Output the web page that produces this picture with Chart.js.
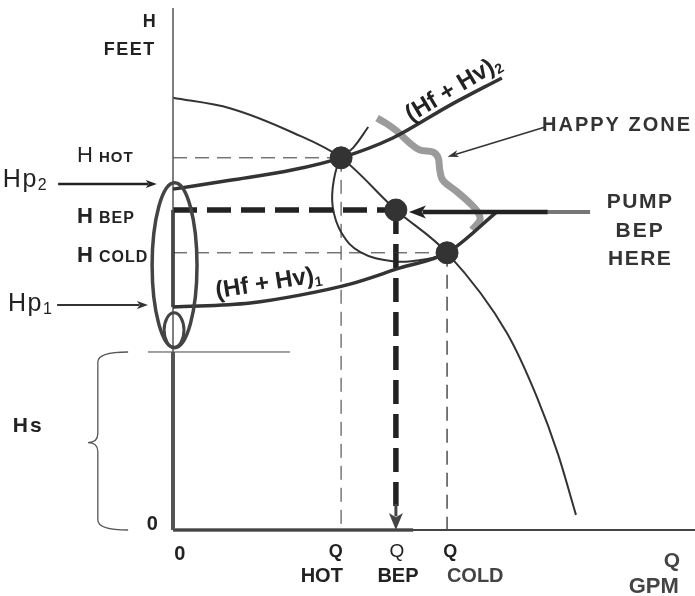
<!DOCTYPE html>
<html>
<head>
<meta charset="utf-8">
<script src="https://cdn.jsdelivr.net/npm/chart.js@4.4.1/dist/chart.umd.min.js"></script>
<style>
  html, body { margin: 0; padding: 0; background: #fff; overflow: hidden; }
  #pumpChart { display: block; }
</style>
</head>
<body>
<canvas id="pumpChart" width="695" height="596"></canvas>
<script>
// Q (flow) and H (head) in plain chart units, both axes run 0..100
const opQ = [32.2, 42.7, 52.5]; // hot, BEP, cold operating points
const opH = [71.3, 61.3, 53.1];

// pump head curve
const pumpQ = [0, 10.9, 23.0, 32.2, 42.7, 52.5, 64.0, 69.7, 73.8, 77.2];
const pumpH = [82.8, 80.8, 76.1, 71.3, 61.3, 53.1, 37.7, 25.5, 14.4, 2.9];

// system curves (Hf + Hv)2 and (Hf + Hv)1
const sys2Q = [0, 10.9, 23.0, 32.2, 42.1, 53.1, 63.0];
const sys2H = [65.3, 67.0, 69.0, 71.3, 75.1, 81.4, 86.6];
const sys1Q = [0, 14.8, 24.3, 33.9, 43.5, 52.5, 62.1];
const sys1H = [42.7, 43.5, 45.0, 47.1, 50.2, 53.1, 61.0];

// loop running from above the hot point round to the cold point
const loopQ = [37.4, 34.5, 32.2, 30.8, 30.6, 32.3, 35.8, 42.1, 48.7, 52.5];
const loopH = [77.2, 73.2, 71.3, 67.0, 61.9, 56.9, 53.3, 51.5, 51.9, 53.1];

// grey "happy zone" stroke
const zoneQ = [39.1, 41.0, 42.9, 45.4, 47.3, 49.8, 50.8, 51.1, 51.7, 54.4, 56.9, 58.4, 58.8, 57.3];
const zoneH = [78.9, 77.8, 76.4, 74.1, 72.8, 72.4, 71.3, 69.0, 67.0, 64.8, 62.6, 60.9, 59.4, 57.5];

const hs = 34.1; // static head Hs

const B = '"Liberation Sans", Arial, sans-serif';

// text: anchor q/h, alignment, rotation, and runs of [text, font, dy, spacing, colour]
const labels = [
  { q: -3.3, h: 96.4, a: 'right', parts: [['H', 'bold 18px']] },
  { q: -3.3, h: 91.0, a: 'right', parts: [['FEET', 'bold 18px', 0, 1.5]] },
  { q: -18.4, h: 70.5, a: 'left', parts: [['H ', '22px'], ['HOT', 'bold 15px', 0, 1]] },
  { q: -32.6, h: 65.7, a: 'left', parts: [['Hp', '25px', 0, 1.5], ['2', '16px', 3]] },
  { q: -18.4, h: 58.8, a: 'left', parts: [['H ', 'bold 22px'], ['BEP', 'bold 16px', 0, 1]] },
  { q: -18.4, h: 51.3, a: 'left', parts: [['H ', 'bold 22px'], ['COLD', 'bold 16px', 0, 1]] },
  { q: -31.6, h: 42.0, a: 'left', parts: [['Hp', '25px', 0, 1.5], ['1', '16px', 3]] },
  { q: -30.7, h: 18.8, a: 'left', parts: [['Hs', 'bold 21px', 0, 2]] },
  { q: -2.9, h: 0, a: 'right', parts: [['0', 'bold 20px']] },
  { q: 1.3, h: -5.75, a: 'center', parts: [['0', 'bold 20px']] },
  { q: 31.2, h: -5.2, a: 'center', parts: [['Q', 'bold 18px']] },
  { q: 28.5, h: -10.0, a: 'center', parts: [['HOT', 'bold 20px']] },
  { q: 42.9, h: -5.2, a: 'center', parts: [['Q', '19px']] },
  { q: 43.1, h: -10.0, a: 'center', parts: [['BEP', 'bold 20px']] },
  { q: 53.1, h: -5.2, a: 'center', parts: [['Q', 'bold 18px']] },
  { q: 57.9, h: -10.0, a: 'center', parts: [['COLD', 'bold 20px', 0, 0, '#444']] },
  { q: 95.6, h: -7.1, a: 'center', parts: [['Q', 'bold 21px', 0, 0, '#444']] },
  { q: 92.1, h: -12.1, a: 'center', parts: [['GPM', 'bold 22px', 0, 0, '#444']] },
  { q: 70.7, h: 76.4, a: 'left', parts: [['HAPPY ZONE', 'bold 20px', 0, 2, '#333']] },
  { q: 89.5, h: 61.7, a: 'center', parts: [['PUMP', 'bold 21px', 0, 1.5, '#333']] },
  { q: 89.5, h: 56.1, a: 'center', parts: [['BEP', 'bold 21px', 0, 2, '#333']] },
  { q: 89.5, h: 50.8, a: 'center', parts: [['HERE', 'bold 21px', 0, 1.5, '#333']] },
  { q: 54.4, h: 83.4, a: 'center', rot: -31, parts: [['(Hf + Hv)', 'bold 24px'], ['2', 'bold 14px', 4]] },
  { q: 18.5, h: 46.0, a: 'center', rot: -9, parts: [['(Hf + Hv)', 'bold 24px'], ['1', 'bold 14px', 4]] }
];

function pts(qs, hs) {
  return qs.map((q, i) => ({ x: q, y: hs[i] }));
}
function seg(q0, h0, q1, h1) {
  return [{ x: q0, y: h0 }, { x: q1, y: h1 }];
}
function line(data, width, color, extra) {
  return Object.assign({
    data: data, showLine: true, borderWidth: width, borderColor: color,
    pointRadius: 0, fill: false, clip: false, order: 2
  }, extra || {});
}

const dash = [14, 8];
const bold = [24, 10];

const datasets = [
  // operating points
  { data: pts(opQ, opH), showLine: false, pointRadius: 11, pointBackgroundColor: '#333',
    pointBorderColor: '#333', clip: false, order: 0 },
  // axes
  line(seg(0, 0, 0, 100), 1.5, '#555'),
  line(seg(0, sys1H[0], 0, opH[1]), 3.5, '#222'),
  line(seg(0, 0, 0, hs), 4, '#555'),
  line(seg(0, 0, 100, 0), 2, '#444'),
  line(seg(0, 0, 46, 0), 3.5, '#555'),
  line(seg(-4.8, hs, 22.4, hs), 1, '#444'),
  // guide lines
  line(seg(0, opH[0], opQ[0], opH[0]), 1, '#333', { borderDash: dash }),
  line(seg(opQ[0], opH[0], opQ[0], 0), 1, '#333', { borderDash: dash }),
  line(seg(0, opH[2], opQ[2], opH[2]), 1, '#333', { borderDash: dash }),
  line(seg(opQ[2], opH[2], opQ[2], 0), 1.3, '#333', { borderDash: dash }),
  line(seg(0, opH[1], opQ[1], opH[1]), 5.5, '#222', { borderDash: bold }),
  line(seg(opQ[1], opH[1], opQ[1], 3.5), 5.5, '#222', { borderDash: bold }),
  // curves
  line(pts(zoneQ, zoneH), 7, '#9b9b9b', { tension: 0.35, order: 3 }),
  line(pts(pumpQ, pumpH), 2, '#333', { cubicInterpolationMode: 'monotone' }),
  line(pts(sys2Q, sys2H), 3.5, '#333', { cubicInterpolationMode: 'monotone', order: 1 }),
  line(pts(sys1Q, sys1H), 3.5, '#333', { cubicInterpolationMode: 'monotone', order: 1 }),
  line(pts(loopQ, loopH), 2, '#333', { tension: 0.4 })
];

function arrow(ctx, x0, y0, x1, y1, w, len, half, color) {
  const ang = Math.atan2(y1 - y0, x1 - x0);
  ctx.save();
  ctx.strokeStyle = color;
  ctx.fillStyle = color;
  ctx.lineWidth = w;
  ctx.beginPath();
  ctx.moveTo(x0, y0);
  ctx.lineTo(x1 - Math.cos(ang) * len * 0.8, y1 - Math.sin(ang) * len * 0.8);
  ctx.stroke();
  ctx.translate(x1, y1);
  ctx.rotate(ang);
  ctx.beginPath();
  ctx.moveTo(0, 0);
  ctx.lineTo(-len, -half);
  ctx.lineTo(-len * 0.75, 0);
  ctx.lineTo(-len, half);
  ctx.closePath();
  ctx.fill();
  ctx.restore();
}

const overlay = {
  id: 'overlay',
  afterDatasetsDraw(chart) {
    const ctx = chart.ctx;
    const X = v => chart.scales.x.getPixelForValue(v);
    const Y = v => chart.scales.y.getPixelForValue(v);
    const sx = X(1) - X(0);
    const sy = Y(0) - Y(1);

    // the two loops drawn round the start of the system curves
    ctx.save();
    ctx.strokeStyle = '#444';
    ctx.lineWidth = 3.5;
    ctx.beginPath();
    ctx.ellipse(X(0.3), Y(50.7), 4.3 * sx, 15.8 * sy, 0, 0, Math.PI * 2);
    ctx.stroke();
    ctx.lineWidth = 3;
    ctx.beginPath();
    ctx.ellipse(X(0.2), Y(38.3), 1.9 * sx, 3.3 * sy, 0, 0, Math.PI * 2);
    ctx.stroke();

    // brace for Hs
    const e = X(-8.6), s = X(-14.4), t = X(-16.3), m = Y(hs / 2 - 0.3);
    ctx.lineWidth = 1.3;
    ctx.strokeStyle = '#555';
    ctx.beginPath();
    ctx.moveTo(e, Y(hs));
    ctx.quadraticCurveTo(s, Y(hs), s, Y(hs) + 10);
    ctx.lineTo(s, m - 9);
    ctx.quadraticCurveTo(s, m, t, m);
    ctx.quadraticCurveTo(s, m, s, m + 9);
    ctx.lineTo(s, Y(0) - 10);
    ctx.quadraticCurveTo(s, Y(0), e, Y(0));
    ctx.stroke();
    ctx.restore();

    // arrows
    arrow(ctx, X(-22.0), Y(66.3), X(-3.1), Y(66.3), 2.5, 11, 4, '#222');
    arrow(ctx, X(-22.2), Y(43.1), X(-4.8), Y(43.1), 2, 11, 4, '#333');
    arrow(ctx, X(71.3), Y(77.2), X(52.6), Y(71.5), 1.5, 11, 3.5, '#333');
    ctx.save();
    ctx.strokeStyle = '#777';
    ctx.lineWidth = 4;
    ctx.beginPath();
    ctx.moveTo(X(71.8), Y(opH[1] - 0.4));
    ctx.lineTo(X(79.9), Y(opH[1] - 0.4));
    ctx.stroke();
    ctx.restore();
    arrow(ctx, X(71.8), Y(opH[1] - 0.4), X(45.2), Y(opH[1] - 0.4), 4.5, 17, 6.5, '#222');
    arrow(ctx, X(opQ[1]), Y(5), X(opQ[1]), Y(0), 3, 17, 7, '#444');

    // text
    ctx.save();
    ctx.textBaseline = 'alphabetic';
    ctx.textAlign = 'left';
    labels.forEach(l => {
      ctx.save();
      ctx.translate(X(l.q), Y(l.h));
      if (l.rot) ctx.rotate(l.rot * Math.PI / 180);
      let w = 0;
      l.parts.forEach(p => {
        ctx.font = p[1] + ' ' + B;
        ctx.letterSpacing = (p[3] || 0) + 'px';
        w += ctx.measureText(p[0]).width;
      });
      let x = l.a === 'center' ? -w / 2 : l.a === 'right' ? -w : 0;
      l.parts.forEach(p => {
        ctx.font = p[1] + ' ' + B;
        ctx.letterSpacing = (p[3] || 0) + 'px';
        ctx.fillStyle = p[4] || '#222';
        ctx.fillText(p[0], x, p[2] || 0);
        x += ctx.measureText(p[0]).width;
      });
      ctx.restore();
    });
    ctx.restore();
  }
};

new Chart(document.getElementById('pumpChart'), {
  type: 'scatter',
  data: { datasets: datasets },
  options: {
    responsive: false,
    animation: false,
    devicePixelRatio: 1,
    layout: { autoPadding: false, padding: { left: 173, right: 0, top: 8, bottom: 66 } },
    plugins: { legend: { display: false }, tooltip: { enabled: false } },
    scales: {
      x: { type: 'linear', min: 0, max: 100, display: false },
      y: { type: 'linear', min: 0, max: 100, display: false }
    }
  },
  plugins: [overlay]
});
</script>
</body>
</html>
